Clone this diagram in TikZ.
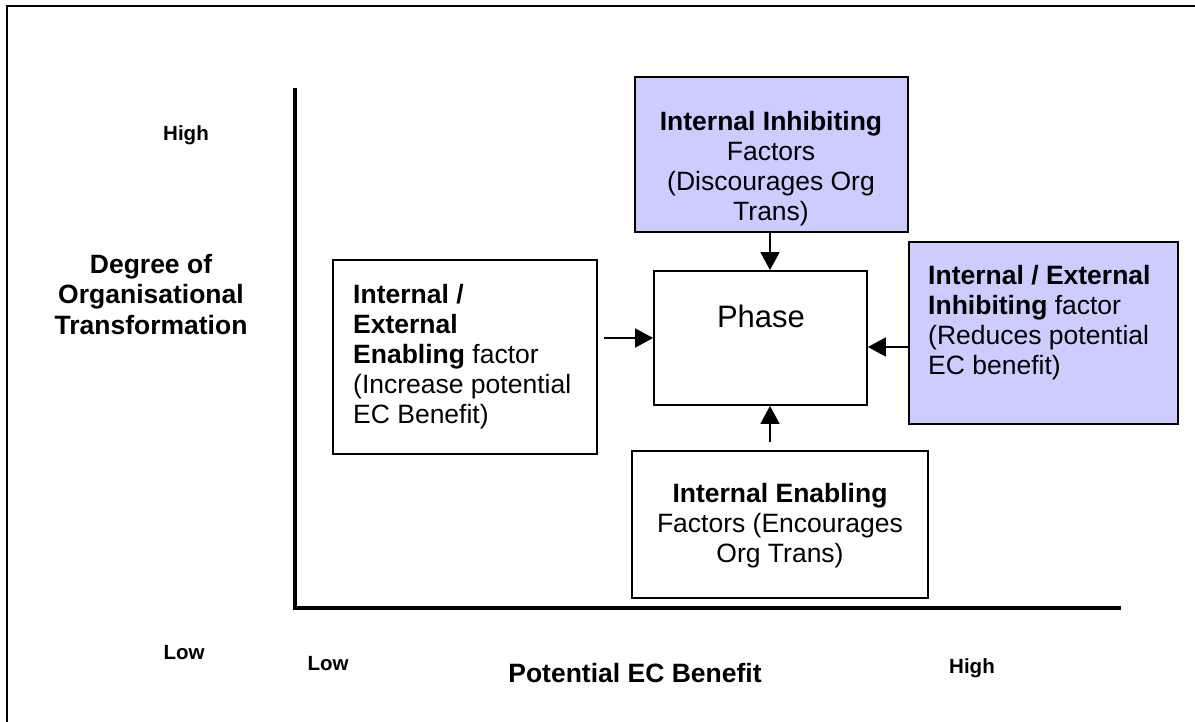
\documentclass[tikz,border=0pt]{standalone}
\usepackage{fontspec}
\setmainfont{Liberation Sans}
\usetikzlibrary{arrows.meta}
\definecolor{lav}{HTML}{CCCCFF}
\newcommand\toprl{\rule{0pt}{21pt}}
\begin{document}
\begin{tikzpicture}[x=1pt,y=-1pt,
  box/.style={draw, line width=1.8pt, inner sep=0pt},
  lavbox/.style={box, fill=lav},
  txt/.style={font=\fontsize{26.5}{30}\selectfont, inner sep=0pt},
  axlbl/.style={font=\bfseries\fontsize{26.5}{30.5}\selectfont, inner sep=0pt},
  arr/.style={line width=1.8pt, -{Triangle[length=18pt,width=19pt]}},
  small/.style={font=\bfseries\fontsize{20.5}{24}\selectfont, inner sep=0pt, anchor=base}]
\useasboundingbox (0,0) rectangle (1195,722);
% frame
\coordinate (fbl) at (7,722);
\coordinate (ftl) at (7,6);
\coordinate (ftr) at (1195,6);
\draw[line width=2pt] (fbl) -- (ftl) -- (ftr);
% axes
\coordinate (ytop) at (295,88);
\coordinate (orig) at (295,608);
\coordinate (xend) at (1121,608);
\draw[line width=3.5pt] (ytop) -- (orig) -- (xend);
% boxes
\node[lavbox, minimum width=273pt, minimum height=155pt] (topb) at (771.5,154.5) {};
\node[box, minimum width=213pt, minimum height=134pt] (phase) at (760.5,338) {};
\node[lavbox, minimum width=269pt, minimum height=182pt] (rbox) at (1043.5,333) {};
\node[box, minimum width=264pt, minimum height=194pt] (lbox) at (465,357) {};
\node[box, minimum width=296pt, minimum height=147pt] (bbox) at (780,524.5) {};
% box texts
\node[txt, align=center, anchor=north] (toptxt) at (771,109)
  {\toprl\textbf{Internal Inhibiting}\\Factors\\(Discourages Org\\Trans)};
\node[txt, font=\fontsize{31}{36}\selectfont, anchor=base] (phasetxt) at (761,327) {Phase};
\node[txt, align=left, anchor=north west] (rtxt) at (928,263)
  {\toprl\textbf{Internal / External}\\\textbf{Inhibiting} factor\\(Reduces potential\\EC benefit)};
\node[txt, align=left, anchor=north west] (ltxt) at (353,282)
  {\toprl\textbf{Internal /}\\\textbf{External}\\\textbf{Enabling} factor\\(Increase potential\\EC Benefit)};
\node[txt, align=center, anchor=north] (btxt) at (780,481)
  {\toprl\textbf{Internal Enabling}\\Factors (Encourages\\Org Trans)};
% axis labels
\node[axlbl, align=center, anchor=north] (ylbl) at (151,252)
  {\toprl Degree of\\Organisational\\Transformation};
\node[axlbl, anchor=base] (xlbl) at (635,682) {Potential EC Benefit};
\node[small] (yhigh) at (186,141) {High};
\node[small] (ylow) at (184,659) {Low};
\node[small] (xlow) at (328,670) {Low};
\node[small] (xhigh) at (972,673) {High};
% connectors
\coordinate (ay) at (0,347);
\draw[arr] (topb.south -| 770,0) -- (phase.north -| 770,0);
\draw[arr, shorten <=8pt] (bbox.north -| 770,0) -- (phase.south -| 770,0);
\draw[arr, shorten <=6pt] (lbox.east |- phase.west) -- (phase.west);
\draw[arr] (rbox.west |- ay) -- (phase.east |- ay);
\end{tikzpicture}
\end{document}
